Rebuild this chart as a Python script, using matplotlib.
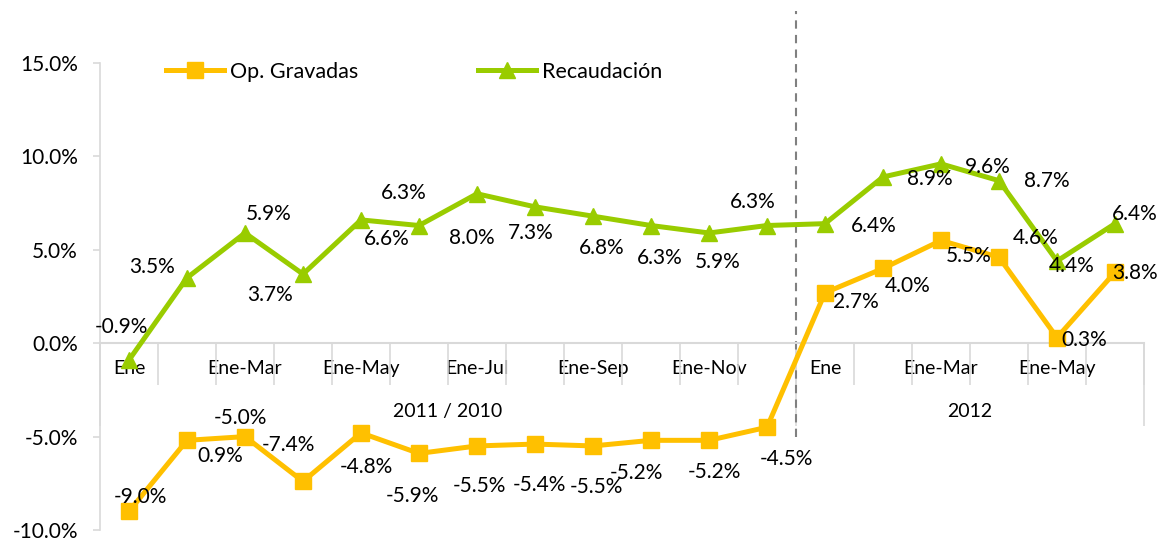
import numpy as np
import matplotlib.pyplot as plt

# ---- data ----
categories = ["Ene", "", "Ene-Mar", "", "Ene-May", "", "Ene-Jul", "", "Ene-Sep", "",
              "Ene-Nov", "", "Ene", "", "Ene-Mar", "", "Ene-May", ""]
groups = ["2011 / 2010", "2012"]
group_sizes = [12, 6]

recaudacion = [-0.9, 3.5, 5.9, 3.7, 6.6, 6.3, 8.0, 7.3, 6.8, 6.3, 5.9, 6.3,
               6.4, 8.9, 9.6, 8.7, 4.4, 6.4]
op_gravadas = [-9.0, -5.2, -5.0, -7.4, -4.8, -5.9, -5.5, -5.4, -5.5, -5.2, -5.2, -4.5,
               2.7, 4.0, 5.5, 4.6, 0.3, 3.8]
# etiquetas tal como aparecen en el gráfico original
op_labels = ["-9.0%", "0.9%", "-5.0%", "-7.4%", "-4.8%", "-5.9%", "-5.5%", "-5.4%",
             "-5.5%", "-5.2%", "-5.2%", "-4.5%", "2.7%", "4.0%", "5.5%", "4.6%",
             "0.3%", "3.8%"]
rec_labels = [f"{v:.1f}%" for v in recaudacion]

# desplazamiento de cada etiqueta (pixeles, y hacia abajo)
rec_off = [(-8, -33), (-35, -11), (24, -19), (-33, 21), (26, 19), (-15, -33), (-5, 44),
           (-4, 26), (9, 32), (9, 32), (9, 29), (-14, -24), (49, 2), (47, 2), (47, 3),
           (48, 0), (15, 5), (20, -10)]
op_off = [(11, -14), (33, 16), (-5, -19), (-15, -36), (5, 34), (-7, 43), (2, 40), (4, 41),
          (3, 41), (-15, 33), (5, 32), (19, 32), (31, 9), (25, 18), (28, 16), (37, -19),
          (27, 2), (20, 1)]

YELLOW = "#FFC000"
GREEN = "#99CC00"
GRID = "#D9D9D9"

plt.rcParams['font.family'] = ['Lato', 'DejaVu Sans']

fig = plt.figure(figsize=(11.62, 5.4), dpi=100)
ax = fig.add_axes([100 / 1162, 10 / 540, 1044 / 1162, 467 / 540])

x = np.arange(len(categories))
ax.plot(x, op_gravadas, color=YELLOW, lw=3.6, marker='s', ms=11, label='Op. Gravadas', zorder=3)
ax.plot(x, recaudacion, color=GREEN, lw=3.6, marker='^', ms=12, label='Recaudación', zorder=3)

for i in range(len(x)):
    dx, dy = rec_off[i]
    ax.annotate(rec_labels[i], (x[i], recaudacion[i]), xytext=(dx, -dy),
                textcoords='offset pixels', ha='center', va='center', fontsize=15, zorder=5)
    dx, dy = op_off[i]
    ax.annotate(op_labels[i], (x[i], op_gravadas[i]), xytext=(dx, -dy),
                textcoords='offset pixels', ha='center', va='center', fontsize=15, zorder=5)

# ejes
ax.set_xlim(-0.5, len(x) - 0.5)
ax.set_ylim(-10, 15)
ax.set_yticks([-10, -5, 0, 5, 10, 15])
ax.set_yticklabels([f"{v:.1f}%" for v in [-10, -5, 0, 5, 10, 15]])
ax.tick_params(axis='y', length=5, width=1.2, color=GRID, pad=11, labelsize=15)

for s in ['top', 'right']:
    ax.spines[s].set_visible(False)
ax.spines['left'].set_color(GRID)
ax.spines['left'].set_linewidth(1.2)
ax.spines['bottom'].set_position(('data', 0))
ax.spines['bottom'].set_color(GRID)
ax.spines['bottom'].set_linewidth(1.5)

ax.set_xticks(x)
ax.set_xticklabels(categories)
ax.set_xticks(np.arange(len(x) + 1) - 0.5, minor=True)
ax.tick_params(axis='x', which='major', length=0, pad=12, labelsize=14)
ax.tick_params(axis='x', which='minor', length=30, width=1.2, color=GRID)

# segundo nivel de categorías
bounds = np.concatenate([[0], np.cumsum(group_sizes)]) - 0.5
centers = (bounds[:-1] + bounds[1:]) / 2
sec = ax.secondary_xaxis(10 / 25)
sec.set_xticks(centers)
sec.set_xticklabels(groups)
sec.set_xticks(bounds, minor=True)
sec.tick_params(axis='x', which='major', length=0, pad=43, labelsize=14)
sec.tick_params(axis='x', which='minor', length=60, width=1.2, color=GRID)
sec.spines['bottom'].set_visible(False)

# línea divisoria 2011 / 2012
ax.vlines(bounds[1], -5, 17.8, colors='#808080', linestyles=(0, (4, 3)), lw=1.5, clip_on=False)

ax.legend(loc='upper left', bbox_to_anchor=(166 / 1162, 1 - 62 / 540), bbox_transform=fig.transFigure,
          ncol=2, frameon=False, fontsize=15.5, handlelength=2.7, handletextpad=0.25,
          columnspacing=5.6, borderpad=0, borderaxespad=0)

fig.savefig("out.png", dpi=100)
